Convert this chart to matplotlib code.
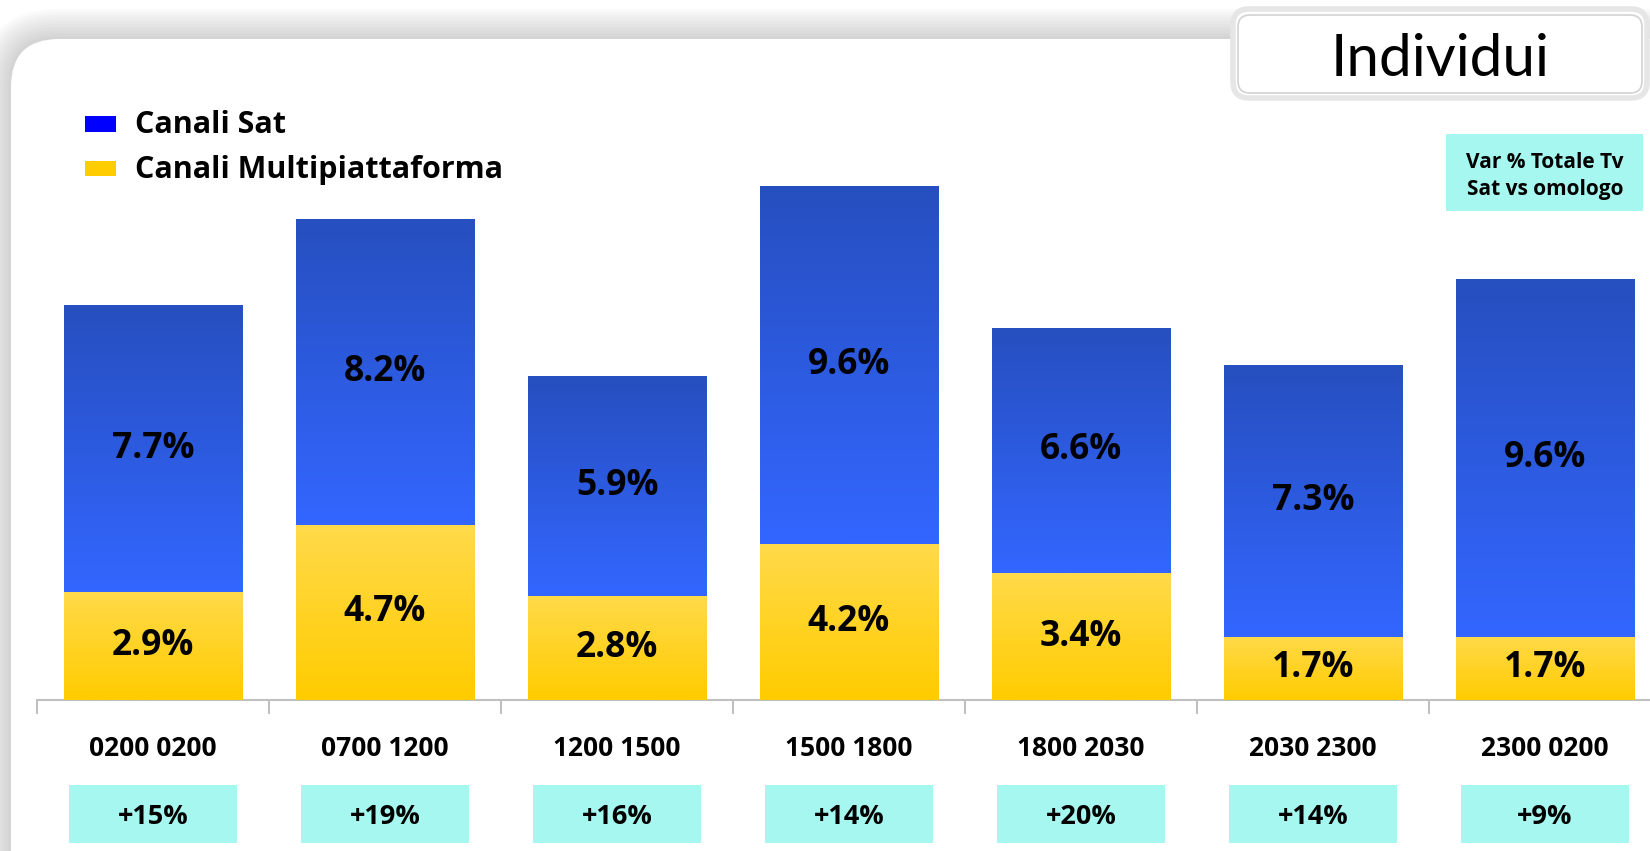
import numpy as np
import matplotlib
matplotlib.use('Agg')
import matplotlib.pyplot as plt
from matplotlib.patches import FancyBboxPatch, Rectangle
from matplotlib.transforms import blended_transform_factory

# data
fasce = ['0200 0200', '0700 1200', '1200 1500', '1500 1800', '1800 2030', '2030 2300', '2300 0200']
sat = [7.7, 8.2, 5.9, 9.6, 6.6, 7.3, 9.6]
multi = [2.9, 4.7, 2.8, 4.2, 3.4, 1.7, 1.7]
var_tot = ['+15%', '+19%', '+16%', '+14%', '+20%', '+14%', '+9%']

BOLD = 'Open Sans'
W, H = 1650, 851

fig = plt.figure(figsize=(16.5, 8.51), dpi=100)
fig.patch.set_facecolor('white')

# overlay in pixel coords for the frame / boxes
ov = fig.add_axes([0, 0, 1, 1], zorder=0)
ov.set_xlim(0, W)
ov.set_ylim(H, 0)
ov.axis('off')

# shadow around the rounded panel
for i in range(10, 0, -1):
    e = i * 3
    ov.add_patch(FancyBboxPatch((11 - e, 39 - e), 1750 + 2 * e, 860 + 2 * e,
                                boxstyle='round,pad=0,rounding_size=%d' % (48 + e),
                                fc='#808080', ec='none', alpha=0.035))
ov.add_patch(FancyBboxPatch((11, 39), 1750, 860, boxstyle='round,pad=0,rounding_size=48',
                            fc='white', ec='none'))

# title box
ov.add_patch(FancyBboxPatch((1233, 9), 414, 89, boxstyle='round,pad=0,rounding_size=16',
                            fc='white', ec='#e6e6e6', lw=4))
ov.add_patch(FancyBboxPatch((1238, 15), 404, 78, boxstyle='round,pad=0,rounding_size=12',
                            fc='white', ec='#d2d2d2', lw=1.2))
ov.text(1440, 59, 'Individui', fontsize=42, family='Lato', ha='center', va='center')

# var box top right
ov.add_patch(Rectangle((1446, 134), 197, 77, fc='#a6f7ef', ec='none'))
ov.text(1545, 162, 'Var % Totale Tv', fontsize=15, family=BOLD, weight='bold', ha='center', va='center')
ov.text(1545, 190, 'Sat vs omologo', fontsize=15, family=BOLD, weight='bold', ha='center', va='center')

# legend
ov.add_patch(Rectangle((85, 116), 31, 16, fc='#0000ff', ec='none'))
ov.add_patch(Rectangle((85, 161), 31, 15, fc='#ffcc00', ec='none'))
ov.text(135, 125, 'Canali Sat', fontsize=22, family=BOLD, weight='bold', va='center')
ov.text(135, 170, 'Canali Multipiattaforma', fontsize=22, family=BOLD, weight='bold', va='center')

# chart axes
step = 232.0
left = 37
base = 700
px_per_unit = 37.25
top = 100
ax = fig.add_axes([left / W, (H - base) / H, (W - left) / W, (base - top) / H], zorder=1)
ax.set_facecolor('none')
x = np.arange(len(fasce))

b1 = ax.bar(x, multi, width=0.77, color='#ffcc00', zorder=2)
b2 = ax.bar(x, sat, width=0.77, bottom=multi, color='#3366ff', zorder=2)


def gradient(bars, c_top, c_bot):
    for p in bars:
        bx, by = p.get_x(), p.get_y()
        bw, bh = p.get_width(), p.get_height()
        t = np.linspace(0, 1, 100)[:, None]
        img = (1 - t) * np.array(c_bot) + t * np.array(c_top)
        im = ax.imshow(img[:, None, :], extent=[bx, bx + bw, by, by + bh], origin='lower',
                       aspect='auto', zorder=3, interpolation='bilinear')
        im.set_clip_path(p)


gradient(b1, (1.0, 0.855, 0.29), (1.0, 0.80, 0.0))
gradient(b2, (0.15, 0.31, 0.75), (0.20, 0.40, 1.0))

ax.bar_label(b1, labels=['%.1f%%' % v for v in multi], label_type='center',
             fontsize=25.5, family=BOLD, weight='bold')
ax.bar_label(b2, labels=['%.1f%%' % v for v in sat], label_type='center',
             fontsize=25.5, family=BOLD, weight='bold')
for t in ax.texts:
    t.set_zorder(5)

for s in ['top', 'right', 'left']:
    ax.spines[s].set_visible(False)
ax.spines['bottom'].set_color('#c0c0c0')
ax.spines['bottom'].set_linewidth(1.5)
ax.set_yticks([])
ax.set_xticks(x)
ax.set_xticklabels(fasce, fontsize=19, family=BOLD, weight='bold')
ax.set_xticks(np.arange(len(fasce)) - 0.5, minor=True)
ax.tick_params(axis='x', which='major', length=0, pad=35)
ax.tick_params(axis='x', which='minor', length=10, width=1.5, color='#c0c0c0')
for lbl in ax.get_xticklabels():
    lbl.set_va('center')

ax.set_xlim(-0.5, -0.5 + (W - left) / step)
ax.set_ylim(0, (base - top) / px_per_unit)

# var % boxes under the categories
tr = blended_transform_factory(ax.transData, ov.transData)
for i, v in enumerate(var_tot):
    ax.add_patch(Rectangle((i - 0.36, 785), 0.72, 58, transform=tr, fc='#a6f7ef', ec='none',
                           clip_on=False))
    ax.text(i, 817, v, transform=tr, ha='center', va='center', fontsize=19.5, family=BOLD,
            weight='bold', clip_on=False)

fig.savefig('out.png', dpi=100)
